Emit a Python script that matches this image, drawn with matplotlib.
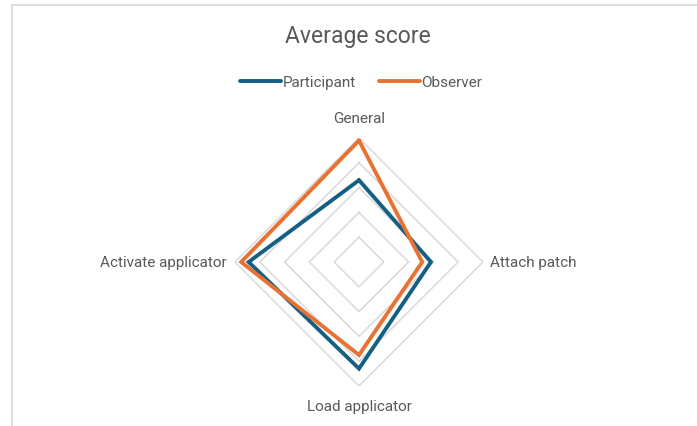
import numpy as np
import matplotlib
matplotlib.use("Agg")
import matplotlib.pyplot as plt
from matplotlib.lines import Line2D

# Average scores per task (scale 0-5)
categories = ["General", "Attach patch", "Load applicator", "Activate applicator"]
participant = [3.3, 2.9, 4.3, 4.45]
observer = [4.9, 2.55, 3.75, 4.75]
series_names = ["Participant", "Observer"]
colors = ["#156082", "#E97132"]
rings = [1, 2, 3, 4, 5]

plt.rcParams['font.family'] = ['Roboto', 'DejaVu Sans']
text_color = "#595959"

fig = plt.figure(figsize=(6.97, 4.27), dpi=100)

# light border at the top and left of the chart area
fig.add_artist(Line2D([12 / 697, 1.0], [1 - 5.5 / 427, 1 - 5.5 / 427],
                      transform=fig.transFigure, color="#D9D9D9", lw=1.2))
fig.add_artist(Line2D([12 / 697, 12 / 697], [0, 1 - 5.5 / 427],
                      transform=fig.transFigure, color="#D9D9D9", lw=1.2))

ax = fig.add_axes([235 / 697, 40 / 427, 248 / 697, 248 / 427], projection="polar")
ax.set_theta_offset(np.pi / 2)
ax.set_theta_direction(-1)
ax.set_ylim(0, 5)
ax.grid(False)
ax.spines["polar"].set_visible(False)
ax.set_xticks([])
ax.set_yticks([])
ax.patch.set_alpha(0)

angles = np.linspace(0, 2 * np.pi, len(categories), endpoint=False)
closed = np.append(angles, angles[0])

# diamond gridlines
for r in rings:
    ax.plot(closed, [r] * len(closed), color="#D9D9D9", lw=1.1, zorder=1)

for vals, name, c in zip([participant, observer], series_names, colors):
    ax.plot(closed, vals + vals[:1], color=c, lw=2.8, label=name, zorder=3,
            solid_joinstyle="miter", solid_capstyle="round")

# category labels
fs = 11
ax.text(angles[0], 5.8, categories[0], ha="center", va="center", fontsize=fs, color=text_color)
ax.text(angles[1], 5.3, categories[1], ha="left", va="center", fontsize=fs, color=text_color)
ax.text(angles[2], 5.8, categories[2], ha="center", va="center", fontsize=fs, color=text_color)
ax.text(angles[3], 5.35, categories[3], ha="right", va="center", fontsize=fs, color=text_color)

fig.text(358 / 697, 1 - 37 / 427, "Average score", ha="center", va="center",
         fontsize=16.5, color=text_color)

leg = fig.legend(loc="center", bbox_to_anchor=(361 / 697, 1 - 83 / 427), ncol=2,
                 frameon=False, fontsize=fs, handlelength=2.7, handletextpad=0.1,
                 columnspacing=1.5)
for t in leg.get_texts():
    t.set_color(text_color)

fig.savefig("out.png", dpi=100)
